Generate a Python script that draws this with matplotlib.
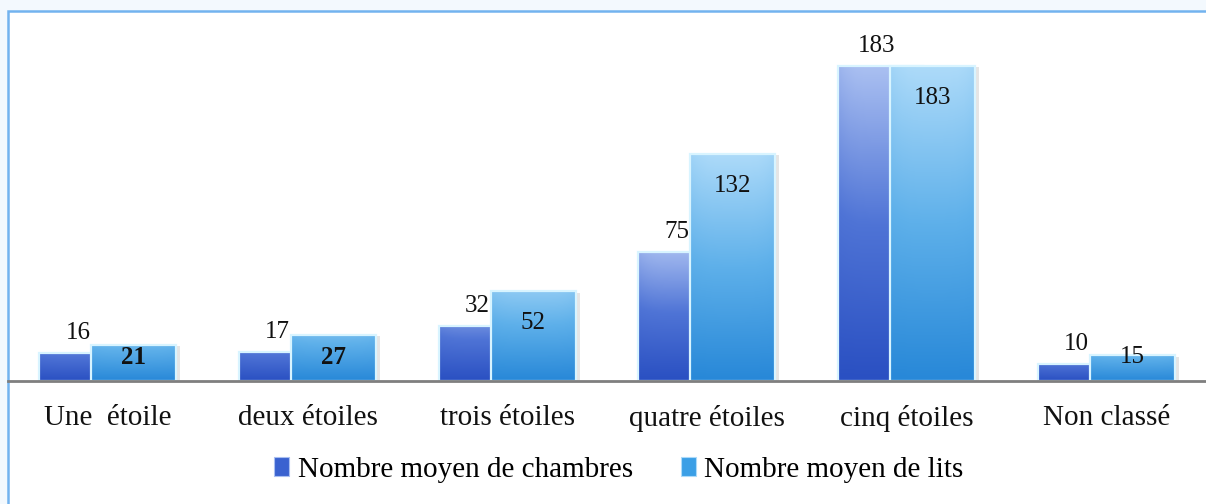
import numpy as np
import matplotlib
matplotlib.use("Agg")
import matplotlib.pyplot as plt
from matplotlib.colors import LinearSegmentedColormap
from matplotlib.patches import Rectangle, Patch
import matplotlib.patheffects as pe

categories = ["Une  étoile", "deux étoiles", "trois étoiles", "quatre étoiles", "cinq étoiles", "Non classé"]
chambres = [16, 17, 32, 75, 183, 10]
lits = [21, 27, 52, 132, 183, 15]
series_names = ["Nombre moyen de chambres", "Nombre moyen de lits"]

FONT = "Liberation Serif"
plt.rcParams["font.family"] = [FONT, "DejaVu Serif"]

W, H = 1206, 504
fig = plt.figure(figsize=(W / 100, H / 100), dpi=100)
fig.patch.set_facecolor("#f3f9fe")

# white chart area with light blue border (left and top visible)
fig.patches.append(Rectangle((8 / W, -0.02), 1.05, 1 - 11 / H + 0.02, transform=fig.transFigure,
                             facecolor="white", edgecolor="#72b3ef", linewidth=1.8, zorder=-5))

base_px = 381
ymax = 200
px_per_unit = (381 - 66) / 183.0
top_px = base_px - ymax * px_per_unit
ax = fig.add_axes([8 / W, (H - base_px) / H, (W - 8) / W, (base_px - top_px) / H])
ax.set_facecolor("none")
ax.set_zorder(2)

x = np.arange(len(categories))
width = 0.426
off = 0.13

cmap1 = LinearSegmentedColormap.from_list("c1", ["#2a50c2", "#4f74d6", "#a9bff1"])
cmap2 = LinearSegmentedColormap.from_list("c2", ["#2888d8", "#5eb0ea", "#acdaf9"])

def draw_series(xpos, vals, cmap, z):
    bars = ax.bar(xpos, vals, width=width, color="#5080d8", linewidth=0, zorder=z,
                  path_effects=[pe.SimplePatchShadow(offset=(3, -1), shadow_rgbFace="#000000", alpha=0.1),
                                pe.Normal()])
    for b in bars:
        x0, y0 = b.get_x(), b.get_y()
        w, h = b.get_width(), b.get_height()
        # vertical gradient; short bars only get part of the light range
        frac = min(1.0, 0.45 + h / 150.0)
        grad = np.linspace(0, frac, 64).reshape(-1, 1)
        horiz = 1 - 0.08 * np.abs(np.linspace(-1, 1, 32)) ** 4
        img = grad * horiz.reshape(1, -1)
        im = ax.imshow(img, extent=[x0, x0 + w, y0, y0 + h], origin="lower", aspect="auto",
                       cmap=cmap, vmin=0, vmax=1, zorder=z + 0.1, interpolation="bilinear")
        im.set_clip_path(b)
    # bevel highlight edges
    ax.bar(xpos, vals, width=width, facecolor="none", edgecolor="#d8f4ff", linewidth=1.6, zorder=z + 0.2)
    return bars

b1 = draw_series(x - off, chambres, cmap1, 2)
b2 = draw_series(x + off, lits, cmap2, 3)

ax.set_xlim(-0.5, len(categories) - 0.5)
ax.set_ylim(0, ymax)

for sp in ["top", "right", "left"]:
    ax.spines[sp].set_visible(False)
ax.spines["bottom"].set_color("#7f7f7f")
ax.spines["bottom"].set_linewidth(2)
ax.spines["bottom"].set_zorder(5)
ax.set_yticks([])
ax.set_xticks(x)
ax.set_xticklabels(categories, fontsize=21, color="#111111")
ax.tick_params(axis="x", length=0, pad=17)

# labels: series 1 above bar end, series 2 inside end
px2pt = 72 / 100.0
for xi, v in zip(x - off, chambres):
    ax.annotate(str(v), (xi - 0.02, v), xytext=(0, 20 * px2pt), textcoords="offset points",
                ha="center", va="center", fontsize=18, color="#111111", zorder=6)
for xi, v in zip(x + off, lits):
    hpx = v * px_per_unit
    ypx = max(hpx - 32, 24)
    bold = ypx > hpx - 32 + 1e-9 and v > 15
    ax.annotate(str(v), (xi, 0), xytext=(0, ypx * px2pt), textcoords="offset points",
                ha="center", va="center", fontsize=18, color="#111111", zorder=6,
                fontweight="bold" if bold else "normal")

handles = [Patch(facecolor="#3a62d0", edgecolor="#a9bff1", linewidth=0.8),
           Patch(facecolor="#3b9fe6", edgecolor="#acdaf9", linewidth=0.8)]
fig.legend(handles, series_names, loc="center", bbox_to_anchor=(619 / W, 1 - 470 / H), ncol=2,
           frameon=False, fontsize=21, handlelength=0.5, handleheight=0.6, handletextpad=0.3,
           columnspacing=1.66)

fig.savefig("out.png", dpi=100, facecolor=fig.get_facecolor())
